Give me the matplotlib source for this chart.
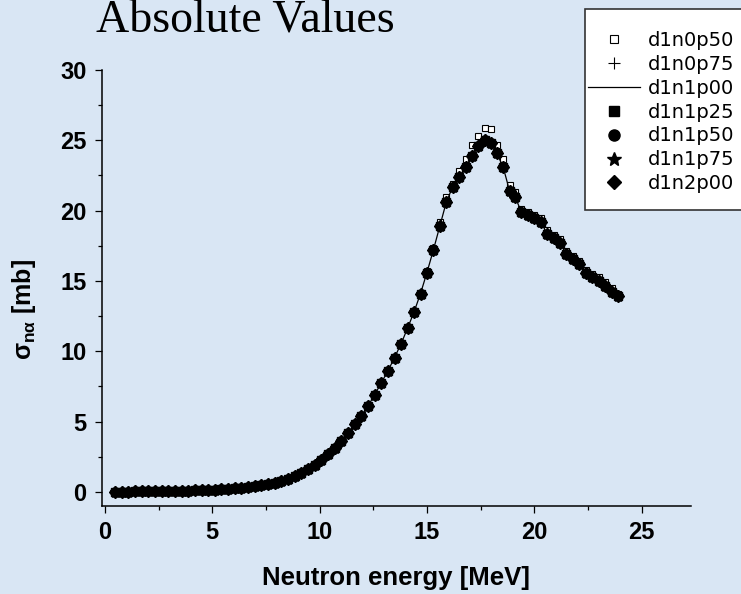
import matplotlib
matplotlib.use("Agg")
import matplotlib.pyplot as plt
from matplotlib.patches import Rectangle
from matplotlib.ticker import MultipleLocator

# ---- data ----
energy = [0.47, 0.78, 1.09, 1.40, 1.71, 2.02, 2.33, 2.64, 2.95, 3.26, 3.57, 3.88,
          4.19, 4.50, 4.81, 5.12, 5.43, 5.74, 6.05, 6.36, 6.67, 6.98, 7.29, 7.60,
          7.91, 8.22, 8.53, 8.84, 9.15, 9.46, 9.77, 10.08, 10.39, 10.70, 11.01, 11.32,
          11.63, 11.94, 12.25, 12.56, 12.87, 13.18, 13.49, 13.80, 14.10, 14.40, 14.70,
          15.00, 15.30, 15.60, 15.90, 16.20, 16.50, 16.80, 17.10, 17.40, 17.70, 18.00,
          18.25, 18.55, 18.85, 19.10, 19.40, 19.70, 20.00, 20.30, 20.60, 20.90, 21.20,
          21.50, 21.80, 22.10, 22.40, 22.70, 23.00, 23.30, 23.60, 23.90]

d1n1p00 = [0.03, 0.03, 0.03, 0.04, 0.04, 0.05, 0.05, 0.06, 0.07, 0.08, 0.09, 0.10,
           0.12, 0.13, 0.15, 0.17, 0.20, 0.23, 0.26, 0.30, 0.35, 0.41, 0.48, 0.56,
           0.66, 0.78, 0.93, 1.12, 1.35, 1.62, 1.95, 2.30, 2.70, 3.15, 3.65, 4.20,
           4.80, 5.40, 6.10, 6.90, 7.75, 8.60, 9.55, 10.55, 11.65, 12.80, 14.10,
           15.60, 17.20, 18.90, 20.60, 21.70, 22.40, 23.10, 23.90, 24.60, 25.00, 24.80,
           24.10, 23.10, 21.40, 21.00, 19.90, 19.70, 19.50, 19.20, 18.35, 18.05, 17.70,
           16.90, 16.55, 16.20, 15.55, 15.27, 15.03, 14.65, 14.25, 13.90]

d1n0p50 = [0.03, 0.03, 0.03, 0.04, 0.04, 0.05, 0.05, 0.06, 0.07, 0.08, 0.09, 0.10,
           0.12, 0.13, 0.15, 0.17, 0.20, 0.23, 0.26, 0.30, 0.35, 0.41, 0.48, 0.56,
           0.66, 0.78, 0.93, 1.12, 1.35, 1.62, 1.95, 2.30, 2.70, 3.15, 3.65, 4.20,
           4.80, 5.40, 6.10, 6.90, 7.75, 8.60, 9.55, 10.55, 11.65, 12.80, 14.15,
           15.70, 17.35, 19.20, 21.00, 21.90, 22.80, 23.70, 24.70, 25.30, 25.90, 25.80,
           24.70, 23.70, 21.80, 21.30, 20.10, 19.90, 19.70, 19.45, 18.60, 18.30, 17.95,
           17.15, 16.80, 16.45, 15.80, 15.50, 15.25, 14.90, 14.50, 14.10]

d1n0p75 = d1n1p00
d1n1p25 = d1n1p00
d1n1p50 = d1n1p00
d1n1p75 = d1n1p00
d1n2p00 = d1n1p00

series_names = ["d1n0p50", "d1n0p75", "d1n1p00", "d1n1p25", "d1n1p50", "d1n1p75", "d1n2p00"]
x_ticks = [0, 5, 10, 15, 20, 25]
y_ticks = [0, 5, 10, 15, 20, 25, 30]

# ---- style ----
plt.rcParams['mathtext.fontset'] = 'custom'
plt.rcParams['mathtext.rm'] = 'Liberation Sans:bold'
plt.rcParams['mathtext.it'] = 'Liberation Sans:bold'
plt.rcParams['mathtext.bf'] = 'Liberation Sans:bold'

bg = '#d9e6f4'
W, H = 741, 594
fig = plt.figure(figsize=(W / 100, H / 100), dpi=100, facecolor=bg)
ax = fig.add_axes([101.7 / W, 1 - 506 / H, (691 - 101.7) / W, (506 - 70) / H])
ax.set_facecolor('none')

# plotting (squares first so the filled markers sit on top)
ax.plot(energy, d1n0p50, ls='none', marker='s', ms=4.8, mfc='white', mec='black',
        mew=0.8, label=series_names[0], zorder=2)
ax.plot(energy, d1n0p75, ls='none', marker='+', ms=6.5, mec='black', mew=0.8,
        label=series_names[1], zorder=3)
ax.plot(energy, d1n1p00, ls='-', lw=0.9, color='black', label=series_names[2], zorder=3)
ax.plot(energy, d1n1p25, ls='none', marker='s', ms=5.4, mfc='black', mec='black',
        label=series_names[3], zorder=4)
ax.plot(energy, d1n1p50, ls='none', marker='o', ms=6.4, mfc='black', mec='black',
        label=series_names[4], zorder=4)
ax.plot(energy, d1n1p75, ls='none', marker='*', ms=8.2, mfc='black', mec='black',
        label=series_names[5], zorder=4)
ax.plot(energy, d1n2p00, ls='none', marker='D', ms=6.0, mfc='black', mec='black',
        label=series_names[6], zorder=4)

ax.set_xlim(-0.15, 27.3)
ax.set_ylim(-1, 30)
ax.set_xticks(x_ticks)
ax.set_yticks(y_ticks)
ax.xaxis.set_minor_locator(MultipleLocator(2.5))
ax.yaxis.set_minor_locator(MultipleLocator(2.5))

for s in ['top', 'right']:
    ax.spines[s].set_visible(False)
for s in ['left', 'bottom']:
    ax.spines[s].set_linewidth(1.1)

ax.tick_params(which='major', direction='out', length=5, width=0.9)
ax.tick_params(which='minor', direction='out', length=3, width=0.9)
ax.tick_params(axis='y', which='major', pad=6)
ax.tick_params(axis='x', which='major', pad=6)
for lab in ax.get_xticklabels() + ax.get_yticklabels():
    lab.set_fontfamily('Liberation Sans')
    lab.set_fontweight('bold')
    lab.set_fontsize(17)

ax.set_xlabel('Neutron energy [MeV]', fontfamily='Liberation Sans', fontweight='bold',
              fontsize=18.5)
ax.xaxis.set_label_coords(0.5, (506 - 566) / 436)
ax.set_ylabel(r'$\sigma_{n\alpha}$ [mb]', fontfamily='Liberation Sans', fontweight='bold',
              fontsize=18)
ax.yaxis.set_label_coords((38 - 101.7) / 589.3, (506 - 310) / 436)

# title
fig.text(96 / W, 1 - 32 / H, 'Absolute Values', fontfamily='Liberation Serif',
         fontsize=33, ha='left', va='baseline')

# legend box (white rectangle) and legend entries
ax.add_patch(Rectangle((585 / W, 1 - 210 / H), 200 / W, (210 - 9) / H,
                       transform=fig.transFigure, facecolor='white',
                       edgecolor='#333333', linewidth=1.2, zorder=5, clip_on=False))
leg = ax.legend(loc='upper left', bbox_to_anchor=(588 / W, 1 - 31 / H),
                bbox_transform=fig.transFigure, frameon=False, borderpad=0,
                borderaxespad=0, handlelength=2.68, handletextpad=0.41,
                labelspacing=0.25, markerscale=1.25,
                prop={'family': 'DejaVu Sans', 'size': 14})
leg.set_zorder(6)

fig.savefig('out.png', dpi=100, facecolor=bg)
